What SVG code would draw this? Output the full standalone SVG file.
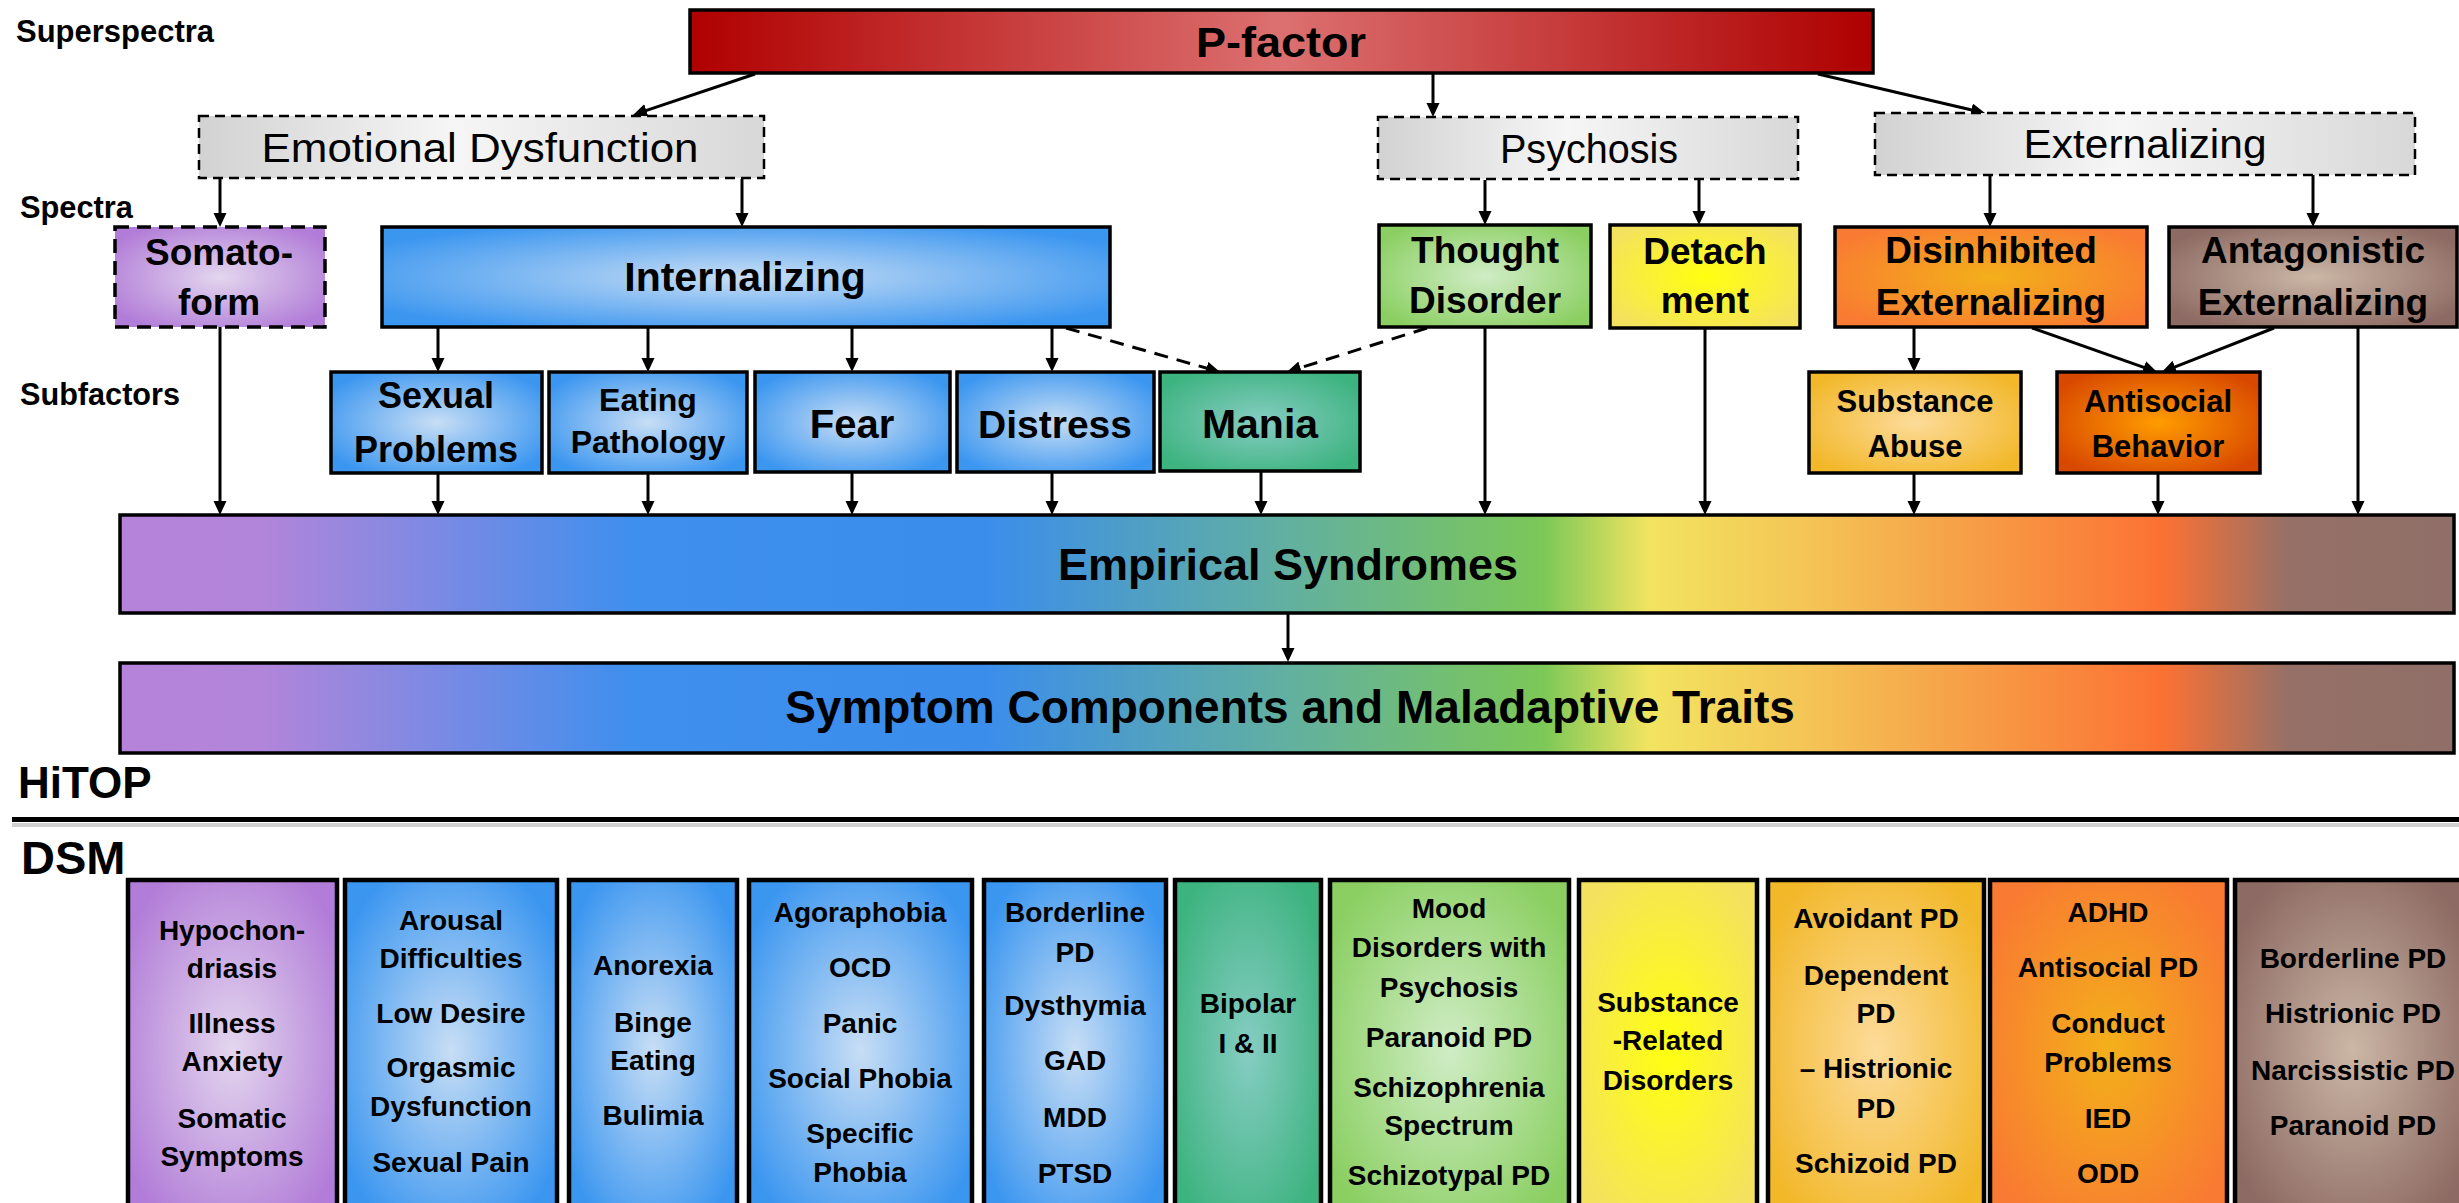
<svg xmlns="http://www.w3.org/2000/svg" width="2459" height="1203" viewBox="0 0 2459 1203">
  <style>
    text { font-family: "Liberation Sans", Arial, sans-serif; fill: #000; }
    .b { font-weight: bold; }
    .m { text-anchor: middle; }
    .side { font-weight: bold; font-size: 31px; }
    .box { stroke: #000; stroke-width: 3.5; }
    .dash { stroke: #000; stroke-width: 2.5; stroke-dasharray: 10 6; }
    .dashthick { stroke: #000; stroke-width: 3.5; stroke-dasharray: 14 8; }
    .dsmbox { stroke: #000; stroke-width: 4.5; }
    .dsm { font-weight: bold; font-size: 28px; text-anchor: middle; }
    .arrow { stroke: #000; stroke-width: 3; fill: none; marker-end: url(#head); }
    .arrowd { stroke: #000; stroke-width: 3; fill: none; stroke-dasharray: 14 9; marker-end: url(#head); }
  </style>
  <defs>
    <marker id="head" markerUnits="userSpaceOnUse" markerWidth="16" markerHeight="14" refX="6" refY="6.5" orient="auto">
      <path d="M0,0 L14,6.5 L0,13 z" fill="#000"/>
    </marker>
    <linearGradient id="gRed" x1="0" y1="0" x2="1" y2="0">
      <stop offset="0" stop-color="#B00000"/>
      <stop offset="0.5" stop-color="#DC7070"/>
      <stop offset="1" stop-color="#AE0000"/>
    </linearGradient>
    <linearGradient id="gGray" x1="0" y1="0" x2="1" y2="0">
      <stop offset="0" stop-color="#D2D2D2"/>
      <stop offset="0.45" stop-color="#F6F6F6"/>
      <stop offset="1" stop-color="#D8D8D8"/>
    </linearGradient>
    <linearGradient id="gBar" x1="0" y1="0" x2="1" y2="0">
      <stop offset="0" stop-color="#B583D9"/>
      <stop offset="0.06" stop-color="#B285DA"/>
      <stop offset="0.22" stop-color="#3E8FEE"/>
      <stop offset="0.37" stop-color="#3B8DEC"/>
      <stop offset="0.50" stop-color="#62B0A0"/>
      <stop offset="0.61" stop-color="#7CC857"/>
      <stop offset="0.655" stop-color="#F2E460"/>
      <stop offset="0.72" stop-color="#F4C656"/>
      <stop offset="0.80" stop-color="#F79A45"/>
      <stop offset="0.875" stop-color="#FC7133"/>
      <stop offset="0.93" stop-color="#957067"/>
      <stop offset="1" stop-color="#8F6F68"/>
    </linearGradient>
    <radialGradient id="gPurple" cx="0.5" cy="0.5" r="0.6">
      <stop offset="0" stop-color="#E3D6EE"/>
      <stop offset="1" stop-color="#B27DD8"/>
    </radialGradient>
    <radialGradient id="gBlue" cx="0.5" cy="0.5" r="0.6">
      <stop offset="0" stop-color="#C8DEF5"/>
      <stop offset="1" stop-color="#3B96F0"/>
    </radialGradient>
    <radialGradient id="gTeal" cx="0.5" cy="0.5" r="0.6">
      <stop offset="0" stop-color="#86CDC3"/>
      <stop offset="1" stop-color="#3DB37F"/>
    </radialGradient>
    <radialGradient id="gGreen" cx="0.5" cy="0.5" r="0.6">
      <stop offset="0" stop-color="#D0EDC6"/>
      <stop offset="1" stop-color="#8BCF62"/>
    </radialGradient>
    <radialGradient id="gYellow" cx="0.5" cy="0.5" r="0.6">
      <stop offset="0" stop-color="#FFFF10"/>
      <stop offset="1" stop-color="#F4E25E"/>
    </radialGradient>
    <radialGradient id="gGold" cx="0.5" cy="0.5" r="0.6">
      <stop offset="0" stop-color="#FDDB9A"/>
      <stop offset="1" stop-color="#F2B82A"/>
    </radialGradient>
    <radialGradient id="gOrange" cx="0.5" cy="0.5" r="0.6">
      <stop offset="0" stop-color="#F3B01A"/>
      <stop offset="1" stop-color="#F97A32"/>
    </radialGradient>
    <radialGradient id="gRust" cx="0.5" cy="0.5" r="0.6">
      <stop offset="0" stop-color="#FF9C00"/>
      <stop offset="1" stop-color="#D84800"/>
    </radialGradient>
    <radialGradient id="gBrown" cx="0.5" cy="0.5" r="0.6">
      <stop offset="0" stop-color="#CBB7A6"/>
      <stop offset="1" stop-color="#8D6A63"/>
    </radialGradient>
  </defs>

  <!-- level labels -->
  <g id="levels">
    <text class="side" x="16" y="42" textLength="198" lengthAdjust="spacingAndGlyphs">Superspectra</text>
    <text class="side" x="20" y="218" textLength="113" lengthAdjust="spacingAndGlyphs">Spectra</text>
    <text class="side" x="20" y="405" textLength="160" lengthAdjust="spacingAndGlyphs">Subfactors</text>
    <text class="b" x="18" y="798" font-size="44">HiTOP</text>
    <line x1="12" y1="825" x2="2459" y2="825" stroke="#D0D0D0" stroke-width="4"/>
    <line x1="12" y1="819.5" x2="2459" y2="819.5" stroke="#000" stroke-width="5"/>
    <text class="b" x="21" y="874" font-size="47">DSM</text>
  </g>

  <!-- connectors -->
  <g id="connectors">
    <line class="arrow" x1="755" y1="74" x2="640.6" y2="112.4"/>
    <line class="arrow" x1="1433" y1="74" x2="1433" y2="109"/>
    <line class="arrow" x1="1818" y1="74" x2="1977.2" y2="111.2"/>
    <line class="arrow" x1="220" y1="179" x2="220" y2="219"/>
    <line class="arrow" x1="742" y1="179" x2="742" y2="219"/>
    <line class="arrow" x1="1485" y1="180" x2="1485" y2="217"/>
    <line class="arrow" x1="1699" y1="180" x2="1699" y2="217"/>
    <line class="arrow" x1="1990" y1="175" x2="1990" y2="219"/>
    <line class="arrow" x1="2313" y1="175" x2="2313" y2="219"/>
    <line class="arrow" x1="438" y1="327" x2="438" y2="364"/>
    <line class="arrow" x1="648" y1="327" x2="648" y2="364"/>
    <line class="arrow" x1="852" y1="327" x2="852" y2="364"/>
    <line class="arrow" x1="1052" y1="327" x2="1052" y2="364"/>
    <line class="arrowd" x1="1066" y1="328" x2="1212.3" y2="369.8"/>
    <line class="arrowd" x1="1427" y1="328" x2="1294.6" y2="369.6"/>
    <line class="arrow" x1="1914" y1="327" x2="1914" y2="364"/>
    <line class="arrow" x1="2032" y1="328" x2="2149.5" y2="369.3"/>
    <line class="arrow" x1="2274" y1="328" x2="2169.4" y2="369.1"/>
    <line class="arrow" x1="220" y1="327" x2="220" y2="507"/>
    <line class="arrow" x1="438" y1="473" x2="438" y2="507"/>
    <line class="arrow" x1="648" y1="473" x2="648" y2="507"/>
    <line class="arrow" x1="852" y1="472" x2="852" y2="507"/>
    <line class="arrow" x1="1052" y1="472" x2="1052" y2="507"/>
    <line class="arrow" x1="1261" y1="471" x2="1261" y2="507"/>
    <line class="arrow" x1="1485" y1="327" x2="1485" y2="507"/>
    <line class="arrow" x1="1705" y1="329" x2="1705" y2="507"/>
    <line class="arrow" x1="1914" y1="473" x2="1914" y2="507"/>
    <line class="arrow" x1="2158" y1="473" x2="2158" y2="507"/>
    <line class="arrow" x1="2358" y1="327" x2="2358" y2="507"/>
    <line class="arrow" x1="1288" y1="613" x2="1288" y2="654"/>
  </g>

  <!-- superspectrum -->
  <g id="p-factor">
    <rect class="box" x="690" y="10" width="1183" height="63" fill="url(#gRed)"/>
    <text class="b m" x="1281" y="57" font-size="42" textLength="170" lengthAdjust="spacingAndGlyphs">P-factor</text>
  </g>

  <!-- dashed spectra groups -->
  <g id="emotional-dysfunction">
    <rect class="dash" x="199" y="116" width="565" height="62" fill="url(#gGray)"/>
    <text class="m" x="480" y="162" font-size="41" textLength="437" lengthAdjust="spacingAndGlyphs">Emotional Dysfunction</text>
  </g>
  <g id="psychosis">
    <rect class="dash" x="1378" y="117" width="420" height="62" fill="url(#gGray)"/>
    <text class="m" x="1589" y="163" font-size="41" textLength="178" lengthAdjust="spacingAndGlyphs">Psychosis</text>
  </g>
  <g id="externalizing">
    <rect class="dash" x="1875" y="113" width="540" height="62" fill="url(#gGray)"/>
    <text class="m" x="2145" y="158" font-size="41" textLength="243" lengthAdjust="spacingAndGlyphs">Externalizing</text>
  </g>

  <!-- spectra -->
  <g id="somatoform">
    <rect class="dashthick" x="115" y="227" width="210" height="100" fill="url(#gPurple)"/>
    <text class="b m" x="219" y="265" font-size="37">Somato-</text>
    <text class="b m" x="219" y="315" font-size="37">form</text>
  </g>
  <g id="internalizing">
    <rect class="box" x="382" y="227" width="728" height="100" fill="url(#gBlue)"/>
    <text class="b m" x="745" y="291" font-size="41">Internalizing</text>
  </g>
  <g id="thought-disorder">
    <rect class="box" x="1379" y="225" width="212" height="102" fill="url(#gGreen)"/>
    <text class="b m" x="1485" y="263" font-size="37">Thought</text>
    <text class="b m" x="1485" y="313" font-size="37">Disorder</text>
  </g>
  <g id="detachment">
    <rect class="box" x="1610" y="225" width="190" height="103" fill="url(#gYellow)"/>
    <text class="b m" x="1705" y="264" font-size="37">Detach</text>
    <text class="b m" x="1705" y="313" font-size="37">ment</text>
  </g>
  <g id="disinhibited-externalizing">
    <rect class="box" x="1835" y="227" width="312" height="100" fill="url(#gOrange)"/>
    <text class="b m" x="1991" y="263" font-size="37">Disinhibited</text>
    <text class="b m" x="1991" y="315" font-size="37">Externalizing</text>
  </g>
  <g id="antagonistic-externalizing">
    <rect class="box" x="2169" y="227" width="288" height="100" fill="url(#gBrown)"/>
    <text class="b m" x="2313" y="263" font-size="37">Antagonistic</text>
    <text class="b m" x="2313" y="315" font-size="37">Externalizing</text>
  </g>

  <!-- subfactors -->
  <g id="sexual-problems">
    <rect class="box" x="331" y="372" width="211" height="101" fill="url(#gBlue)"/>
    <text class="b m" x="436" y="408" font-size="36">Sexual</text>
    <text class="b m" x="436" y="462" font-size="36">Problems</text>
  </g>
  <g id="eating-pathology">
    <rect class="box" x="549" y="372" width="198" height="101" fill="url(#gBlue)"/>
    <text class="b m" x="648" y="411" font-size="32">Eating</text>
    <text class="b m" x="648" y="453" font-size="32">Pathology</text>
  </g>
  <g id="fear">
    <rect class="box" x="755" y="372" width="195" height="100" fill="url(#gBlue)"/>
    <text class="b m" x="852" y="438" font-size="40">Fear</text>
  </g>
  <g id="distress">
    <rect class="box" x="957" y="372" width="197" height="100" fill="url(#gBlue)"/>
    <text class="b m" x="1055" y="438" font-size="39">Distress</text>
  </g>
  <g id="mania">
    <rect class="box" x="1160" y="372" width="200" height="99" fill="url(#gTeal)"/>
    <text class="b m" x="1260" y="438" font-size="41">Mania</text>
  </g>
  <g id="substance-abuse">
    <rect class="box" x="1809" y="372" width="212" height="101" fill="url(#gGold)"/>
    <text class="b m" x="1915" y="412" font-size="31">Substance</text>
    <text class="b m" x="1915" y="457" font-size="31">Abuse</text>
  </g>
  <g id="antisocial-behavior">
    <rect class="box" x="2057" y="372" width="203" height="101" fill="url(#gRust)"/>
    <text class="b m" x="2158" y="412" font-size="31">Antisocial</text>
    <text class="b m" x="2158" y="457" font-size="31">Behavior</text>
  </g>

  <!-- lower levels -->
  <g id="empirical-syndromes">
    <rect class="box" x="120" y="515" width="2334" height="98" fill="url(#gBar)"/>
    <text class="b m" x="1288" y="580" font-size="45">Empirical Syndromes</text>
  </g>
  <g id="symptom-components">
    <rect class="box" x="120" y="663" width="2334" height="90" fill="url(#gBar)"/>
    <text class="b m" x="1290" y="723" font-size="46">Symptom Components and Maladaptive Traits</text>
  </g>

  <!-- DSM columns -->
  <g id="dsm-somatic">
    <rect class="dsmbox" x="128" y="880" width="209" height="340" fill="url(#gPurple)"/>
    <text class="dsm" x="232" y="940">Hypochon-</text>
    <text class="dsm" x="232" y="978">driasis</text>
    <text class="dsm" x="232" y="1033">Illness</text>
    <text class="dsm" x="232" y="1071">Anxiety</text>
    <text class="dsm" x="232" y="1128">Somatic</text>
    <text class="dsm" x="232" y="1166">Symptoms</text>
  </g>
  <g id="dsm-sexual">
    <rect class="dsmbox" x="345" y="880" width="212" height="340" fill="url(#gBlue)"/>
    <text class="dsm" x="451" y="930">Arousal</text>
    <text class="dsm" x="451" y="968">Difficulties</text>
    <text class="dsm" x="451" y="1023">Low Desire</text>
    <text class="dsm" x="451" y="1077">Orgasmic</text>
    <text class="dsm" x="451" y="1116">Dysfunction</text>
    <text class="dsm" x="451" y="1172">Sexual Pain</text>
  </g>
  <g id="dsm-eating">
    <rect class="dsmbox" x="569" y="880" width="168" height="340" fill="url(#gBlue)"/>
    <text class="dsm" x="653" y="975">Anorexia</text>
    <text class="dsm" x="653" y="1032">Binge</text>
    <text class="dsm" x="653" y="1070">Eating</text>
    <text class="dsm" x="653" y="1125">Bulimia</text>
  </g>
  <g id="dsm-fear">
    <rect class="dsmbox" x="749" y="880" width="223" height="340" fill="url(#gBlue)"/>
    <text class="dsm" x="860" y="922">Agoraphobia</text>
    <text class="dsm" x="860" y="977">OCD</text>
    <text class="dsm" x="860" y="1033">Panic</text>
    <text class="dsm" x="860" y="1088">Social Phobia</text>
    <text class="dsm" x="860" y="1143">Specific</text>
    <text class="dsm" x="860" y="1182">Phobia</text>
  </g>
  <g id="dsm-distress">
    <rect class="dsmbox" x="984" y="880" width="182" height="340" fill="url(#gBlue)"/>
    <text class="dsm" x="1075" y="922">Borderline</text>
    <text class="dsm" x="1075" y="962">PD</text>
    <text class="dsm" x="1075" y="1015">Dysthymia</text>
    <text class="dsm" x="1075" y="1070">GAD</text>
    <text class="dsm" x="1075" y="1127">MDD</text>
    <text class="dsm" x="1075" y="1183">PTSD</text>
  </g>
  <g id="dsm-mania">
    <rect class="dsmbox" x="1175" y="880" width="146" height="340" fill="url(#gTeal)"/>
    <text class="dsm" x="1248" y="1013">Bipolar</text>
    <text class="dsm" x="1248" y="1053">I &amp; II</text>
  </g>
  <g id="dsm-thought">
    <rect class="dsmbox" x="1330" y="880" width="239" height="340" fill="url(#gGreen)"/>
    <text class="dsm" x="1449" y="918">Mood</text>
    <text class="dsm" x="1449" y="957">Disorders with</text>
    <text class="dsm" x="1449" y="997">Psychosis</text>
    <text class="dsm" x="1449" y="1047">Paranoid PD</text>
    <text class="dsm" x="1449" y="1097">Schizophrenia</text>
    <text class="dsm" x="1449" y="1135">Spectrum</text>
    <text class="dsm" x="1449" y="1185">Schizotypal PD</text>
  </g>
  <g id="dsm-substance">
    <rect class="dsmbox" x="1579" y="880" width="178" height="340" fill="url(#gYellow)"/>
    <text class="dsm" x="1668" y="1012">Substance</text>
    <text class="dsm" x="1668" y="1050">-Related</text>
    <text class="dsm" x="1668" y="1090">Disorders</text>
  </g>
  <g id="dsm-detachment">
    <rect class="dsmbox" x="1768" y="880" width="216" height="340" fill="url(#gGold)"/>
    <text class="dsm" x="1876" y="928">Avoidant PD</text>
    <text class="dsm" x="1876" y="985">Dependent</text>
    <text class="dsm" x="1876" y="1023">PD</text>
    <text class="dsm" x="1876" y="1078">– Histrionic</text>
    <text class="dsm" x="1876" y="1118">PD</text>
    <text class="dsm" x="1876" y="1173">Schizoid PD</text>
  </g>
  <g id="dsm-disinhibited">
    <rect class="dsmbox" x="1990" y="880" width="237" height="340" fill="url(#gOrange)"/>
    <text class="dsm" x="2108" y="922">ADHD</text>
    <text class="dsm" x="2108" y="977">Antisocial PD</text>
    <text class="dsm" x="2108" y="1033">Conduct</text>
    <text class="dsm" x="2108" y="1072">Problems</text>
    <text class="dsm" x="2108" y="1128">IED</text>
    <text class="dsm" x="2108" y="1183">ODD</text>
  </g>
  <g id="dsm-antagonistic">
    <rect class="dsmbox" x="2235" y="880" width="235" height="340" fill="url(#gBrown)"/>
    <text class="dsm" x="2353" y="968">Borderline PD</text>
    <text class="dsm" x="2353" y="1023">Histrionic PD</text>
    <text class="dsm" x="2353" y="1080">Narcissistic PD</text>
    <text class="dsm" x="2353" y="1135">Paranoid PD</text>
  </g>
</svg>
